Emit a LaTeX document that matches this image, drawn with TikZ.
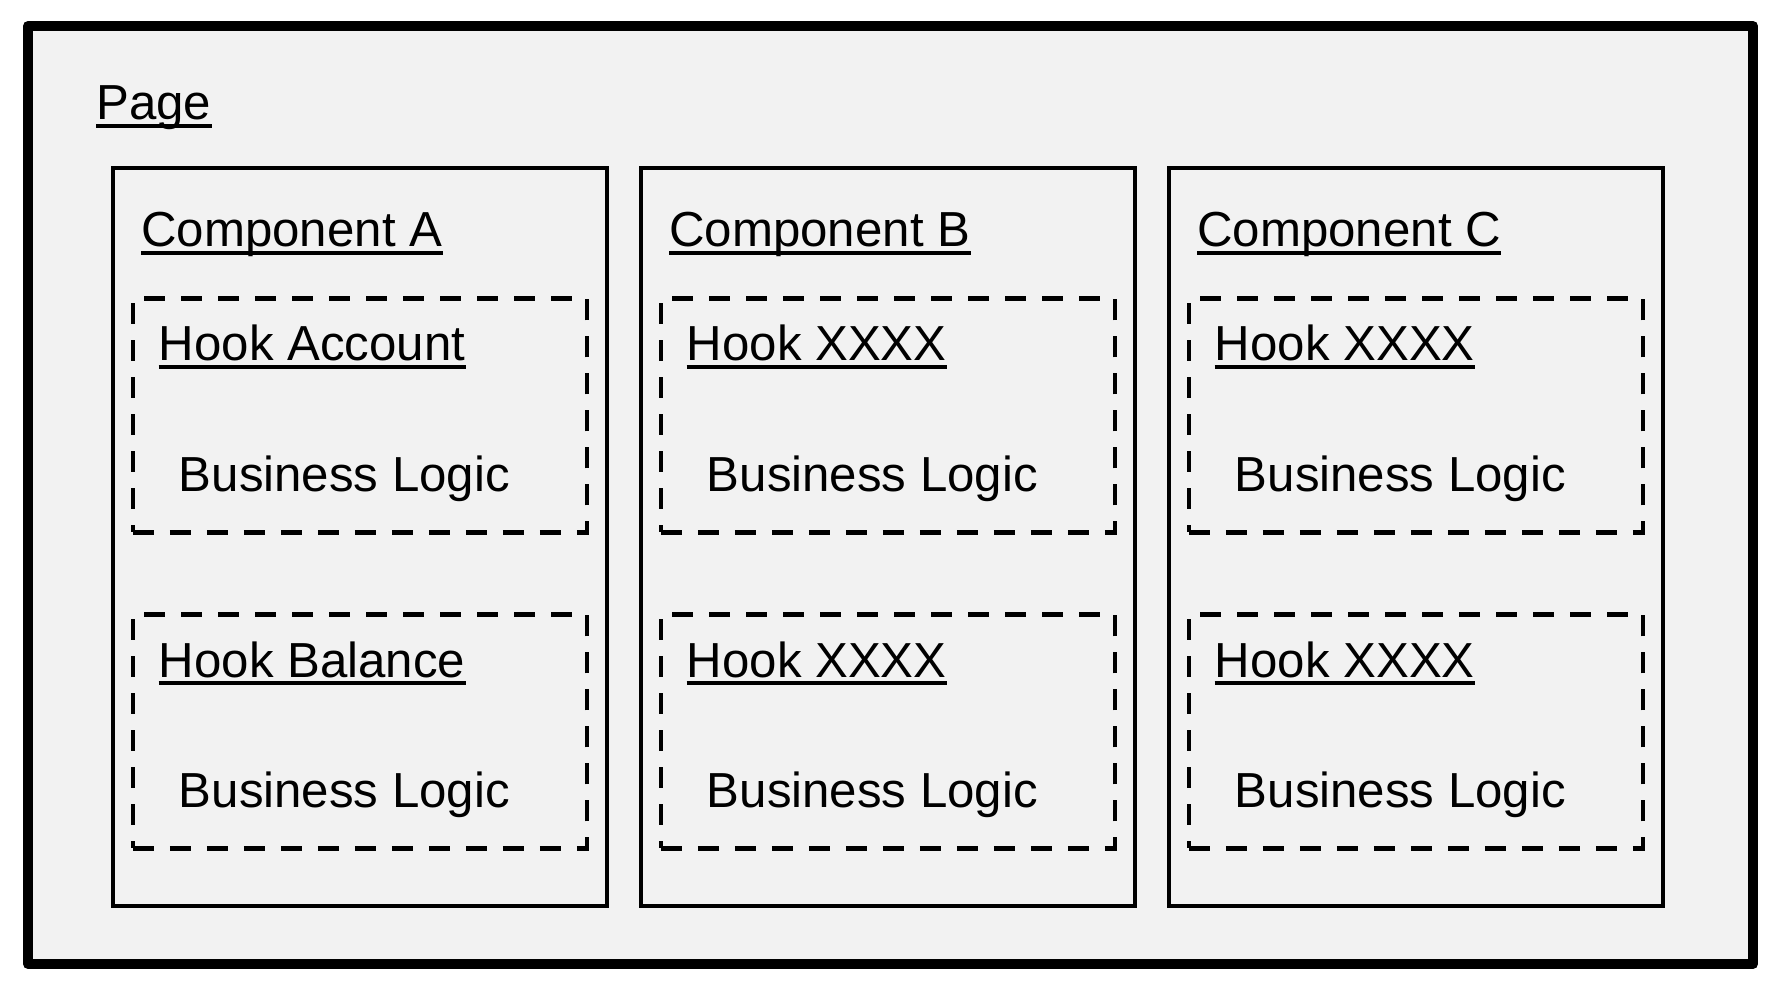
\documentclass[tikz,border=0pt]{standalone}
\usepackage{fontspec}
\setmainfont{Liberation Sans}
\definecolor{bg}{HTML}{F2F2F2}
\begin{document}
\begin{tikzpicture}[x=0.5pt,y=-0.5pt,
  pagebox/.style={draw=black, line width=5pt, fill=bg, line join=round, anchor=north west, inner sep=0pt},
  compbox/.style={draw=black, line width=2pt, fill=bg, anchor=north west, inner sep=0pt, minimum width=247pt, minimum height=369pt},
  hookbox/.style={draw=black, line width=2.4pt, dash pattern=on 10.5pt off 8pt, anchor=north west, inner sep=0pt, minimum width=227pt, minimum height=117pt},
  lbl/.style={anchor=base west, inner sep=0pt, font=\fontsize{24.6}{28}\selectfont},
  uline/.style={line width=1.6pt}]
\useasboundingbox (0,0) rectangle (1768,984);
\node[pagebox, minimum width=862.5pt, minimum height=469pt] (page) at (23,21) {};
\node[lbl] (pagelbl) at (96,120) {Page};
\draw[uline] ([yshift=-3pt]pagelbl.base west) -- ([yshift=-3pt]pagelbl.base east);
\foreach \n/\x/\c/\ha/\hb in {A/111/Component A/Hook Account/Hook Balance,
                            B/639/Component B/Hook XXXX/Hook XXXX,
                            C/1167/Component C/Hook XXXX/Hook XXXX}{
  \node[compbox] (comp\n) at (\x,166) {};
  \node[lbl] (clbl\n) at ([shift={(30,81)}]comp\n.north west) {\c};
  \draw[uline] ([yshift=-3pt]clbl\n.base west) -- ([yshift=-3pt]clbl\n.base east);
  \node[hookbox] (hook\n1) at ([shift={(19.5,130)}]comp\n.north west) {};
  \node[hookbox] (hook\n2) at ([shift={(19.5,446)}]comp\n.north west) {};
  \node[lbl] (hlbl\n1) at ([shift={(28,65)}]hook\n1.north west) {\ha};
  \node[lbl] (hlbl\n2) at ([shift={(28,65)}]hook\n2.north west) {\hb};
  \draw[uline] ([yshift=-3pt]hlbl\n1.base west) -- ([yshift=-3pt]hlbl\n1.base east);
  \draw[uline] ([yshift=-3pt]hlbl\n2.base west) -- ([yshift=-3pt]hlbl\n2.base east);
  \node[lbl] (bl\n1) at ([shift={(48,195)}]hook\n1.north west) {Business Logic};
  \node[lbl] (bl\n2) at ([shift={(48,195)}]hook\n2.north west) {Business Logic};
}
\end{tikzpicture}
\end{document}
